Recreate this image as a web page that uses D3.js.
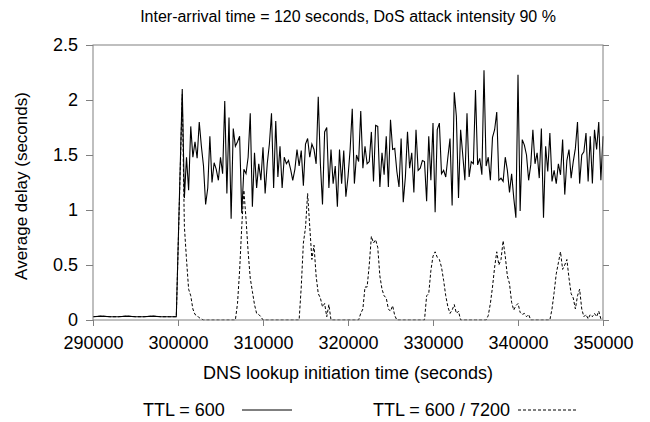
<!DOCTYPE html>
<html>
<head>
<meta charset="utf-8">
<script src="https://cdn.jsdelivr.net/npm/d3@7"></script>
<style>
  html, body { margin: 0; padding: 0; background: #fff; }
  svg { display: block; font-family: "Liberation Sans", Arial, sans-serif; }
</style>
</head>
<body>
<svg id="chart" width="650" height="422"></svg>
<script>
// ---------------- DATA ----------------
const title = "Inter-arrival time = 120 seconds, DoS attack intensity 90 %";
const xLabel = "DNS lookup initiation time (seconds)";
const yLabel = "Average delay (seconds)";
const seriesNames = ["TTL = 600", "TTL = 600 / 7200"];

const xTicks = [290000, 300000, 310000, 320000, 330000, 340000, 350000];
const yTicks = [0, 0.5, 1, 1.5, 2, 2.5];
const yTickLabels = ["0", "0.5", "1", "1.5", "2", "2.5"];

// before the attack (both configurations identical)
const preTimes = [290000, 291000, 292000, 293000, 294000, 295000, 296000, 297000, 298000, 299000, 299800];
const preValues = [0.03, 0.035, 0.03, 0.03, 0.035, 0.03, 0.03, 0.035, 0.03, 0.03, 0.03];

// during the attack: samples every 250 s from 300500 to 350000
const attackStart = 300500;
const attackStep = 250;

const ttl600 = [
  2.10, 1.11, 1.48, 1.18, 1.76, 1.48, 1.62, 1.47, 1.80, 1.58,
  1.40, 1.05, 1.20, 1.67, 1.25, 1.43, 1.37, 1.27, 1.48, 1.33,
  1.99, 1.15, 1.84, 0.92, 1.74, 1.58, 1.62, 1.67, 0.97, 1.37,
  1.33, 1.48, 1.88, 1.03, 1.52, 1.20, 1.42, 1.27, 1.57, 1.15,
  1.42, 1.60, 1.88, 1.20, 1.81, 1.30, 1.58, 1.20, 1.48, 1.42,
  1.45, 1.37, 1.27, 1.37, 1.55, 1.40, 1.54, 1.22, 1.60, 1.65,
  1.48, 1.60, 1.55, 1.42, 2.03, 1.42, 1.05, 1.71, 1.75, 1.20,
  1.55, 1.24, 1.40, 1.03, 1.55, 1.24, 1.54, 1.12, 1.30, 1.55,
  1.92, 1.24, 1.50, 1.44, 1.90,
  1.38, 1.58, 1.42, 1.44, 1.71, 1.26, 1.77, 1.76, 1.21, 1.52,
  1.32, 1.67, 1.21, 1.82, 1.55, 1.56, 1.35, 1.21, 1.65, 1.07,
  1.30, 1.71, 1.38, 1.52, 1.16, 1.73, 1.36, 1.38, 1.45, 1.44,
  1.08, 1.67, 1.27, 1.79, 0.98, 1.73, 1.79, 1.33, 1.36, 1.30,
  1.48, 1.65, 1.04, 2.07, 1.85, 1.11, 1.73, 1.50, 1.27, 1.88,
  1.30, 1.44, 1.42, 2.09, 1.41, 1.47, 1.32, 2.27, 1.40, 1.48,
  1.27, 1.66, 1.73, 1.89, 1.27, 1.29, 1.26, 1.48, 1.36, 1.16,
  1.33, 1.11, 0.93, 2.23, 0.99, 1.64, 1.59, 1.50, 1.27, 1.41,
  1.73, 1.42, 1.52, 1.29, 1.74, 0.93, 1.58, 1.35, 1.70, 1.26,
  1.36, 1.24, 1.42, 1.32, 1.64, 1.14, 1.45, 1.55, 1.29, 1.44,
  1.56, 1.80, 1.24, 1.50, 1.53, 1.70, 1.26, 1.67, 1.24, 1.73,
  1.55, 1.80, 1.27, 1.67
];

const ttl600_7200 = [
  2.05, 0.85, 0.55, 0.28, 0.22, 0.10, 0.05, 0.04, 0.02, 0.01,
  0, 0, 0, 0, 0, 0, 0, 0, 0, 0,
  0, 0, 0, 0, 0, 0, 0.15, 0.45, 0.85, 1.18,
  0.92, 0.62, 0.38, 0.26, 0.14, 0.06, 0.05, 0.03, 0, 0,
  0, 0, 0, 0, 0, 0, 0, 0, 0, 0,
  0, 0, 0, 0, 0, 0, 0.30, 0.70, 0.84, 1.15,
  0.85, 0.55, 0.68, 0.40, 0.24, 0.20, 0.12, 0.15, 0.03, 0.14,
  0, 0, 0, 0, 0, 0, 0, 0, 0, 0,
  0, 0, 0, 0, 0.06, 0.10, 0.30, 0.30, 0.50, 0.76,
  0.70, 0.73, 0.66, 0.40, 0.28, 0.22, 0.20, 0.10, 0.08, 0.13,
  0.04, 0, 0, 0, 0, 0, 0, 0, 0, 0,
  0, 0, 0, 0, 0, 0.22, 0.24, 0.45, 0.58, 0.62,
  0.57, 0.55, 0.48, 0.36, 0.22, 0.12, 0.06, 0.09, 0.14, 0.06,
  0.08, 0, 0, 0, 0, 0, 0, 0, 0, 0,
  0, 0, 0, 0, 0.04, 0.15, 0.30, 0.48, 0.62, 0.50,
  0.55, 0.72, 0.58, 0.40, 0.33, 0.16, 0.09, 0.13, 0.15, 0.07,
  0.05, 0.06, 0.03, 0.05, 0, 0, 0, 0, 0, 0,
  0, 0, 0, 0, 0.10, 0.25, 0.42, 0.52, 0.62, 0.46,
  0.50, 0.55, 0.38, 0.24, 0.20, 0.10, 0.22, 0.28, 0.10, 0.03,
  0.05, 0.01, 0.05, 0.03, 0.06, 0.03, 0.08, 0.01, 0.02
];

// ---------------- CHART ----------------
const svg = d3.select("#chart");
const plot = { left: 93, right: 603, top: 45, bottom: 320 };

const x = d3.scaleLinear().domain([290000, 350000]).range([plot.left, plot.right]);
const y = d3.scaleLinear().domain([0, 2.5]).range([plot.bottom, plot.top]);

const borderColor = "#808080";
const fontSize = 18;

function buildSeries(values) {
  const pts = preTimes.map((t, i) => [t, preValues[i]]);
  values.forEach((v, i) => pts.push([attackStart + i * attackStep, v]));
  return pts;
}

const line = d3.line().x(d => x(d[0])).y(d => y(d[1]));

svg.append("clipPath").attr("id", "clip")
  .append("rect")
  .attr("x", plot.left).attr("y", plot.top - 1)
  .attr("width", plot.right - plot.left + 1).attr("height", plot.bottom - plot.top + 1.5);

const g = svg.append("g").attr("clip-path", "url(#clip)");

g.append("path")
  .datum(buildSeries(ttl600_7200))
  .attr("d", line)
  .attr("fill", "none")
  .attr("stroke", "#000")
  .attr("stroke-width", 1)
  .attr("stroke-dasharray", "3,2");

g.append("path")
  .datum(buildSeries(ttl600))
  .attr("d", line)
  .attr("fill", "none")
  .attr("stroke", "#000")
  .attr("stroke-width", 1.1);

// frame
svg.append("rect")
  .attr("x", plot.left).attr("y", plot.top)
  .attr("width", plot.right - plot.left).attr("height", plot.bottom - plot.top)
  .attr("fill", "none").attr("stroke", borderColor).attr("stroke-width", 1);

// axes
const yAxis = d3.axisLeft(y).tickValues(yTicks).tickSize(7).tickPadding(8)
  .tickFormat((d, i) => yTickLabels[i]);
const yAxisG = svg.append("g").attr("transform", `translate(${plot.left},0)`).call(yAxis);

const yAxisR = d3.axisRight(y).tickValues(yTicks).tickSize(6).tickFormat("");
const yAxisRG = svg.append("g").attr("transform", `translate(${plot.right},0)`).call(yAxisR);

const xAxis = d3.axisBottom(x).tickValues(xTicks).tickSize(6).tickPadding(10)
  .tickFormat(d3.format("d"));
const xAxisG = svg.append("g").attr("transform", `translate(0,${plot.bottom})`).call(xAxis);

[yAxisG, yAxisRG, xAxisG].forEach(a => {
  a.select(".domain").remove();
  a.selectAll(".tick line").attr("stroke", borderColor);
  a.selectAll(".tick text")
    .attr("fill", "#000")
    .style("font-size", fontSize + "px")
    .style("font-family", "'Liberation Sans', Arial, sans-serif");
});

// title
svg.append("text")
  .attr("x", (plot.left + plot.right) / 2).attr("y", 22)
  .attr("text-anchor", "middle")
  .style("font-size", "16px")
  .text(title);

// x label
svg.append("text")
  .attr("x", (plot.left + plot.right) / 2).attr("y", 379)
  .attr("text-anchor", "middle")
  .style("font-size", fontSize + "px")
  .text(xLabel);

// y label
svg.append("text")
  .attr("transform", `translate(27,186) rotate(-90)`)
  .attr("text-anchor", "middle")
  .style("font-size", "17px")
  .text(yLabel);

// legend
const legendY = 410;
const legendItems = [
  { name: seriesNames[0], tx: 143, lx1: 242, lx2: 292, dash: null },
  { name: seriesNames[1], tx: 373, lx1: 518, lx2: 576, dash: "3,2" }
];
const lg = svg.append("g");
legendItems.forEach(it => {
  lg.append("text")
    .attr("x", it.tx).attr("y", legendY + 6)
    .style("font-size", fontSize + "px")
    .text(it.name);
  lg.append("line")
    .attr("x1", it.lx1).attr("x2", it.lx2)
    .attr("y1", legendY).attr("y2", legendY)
    .attr("stroke", "#000").attr("stroke-width", 1)
    .attr("stroke-dasharray", it.dash);
});
</script>
</body>
</html>
